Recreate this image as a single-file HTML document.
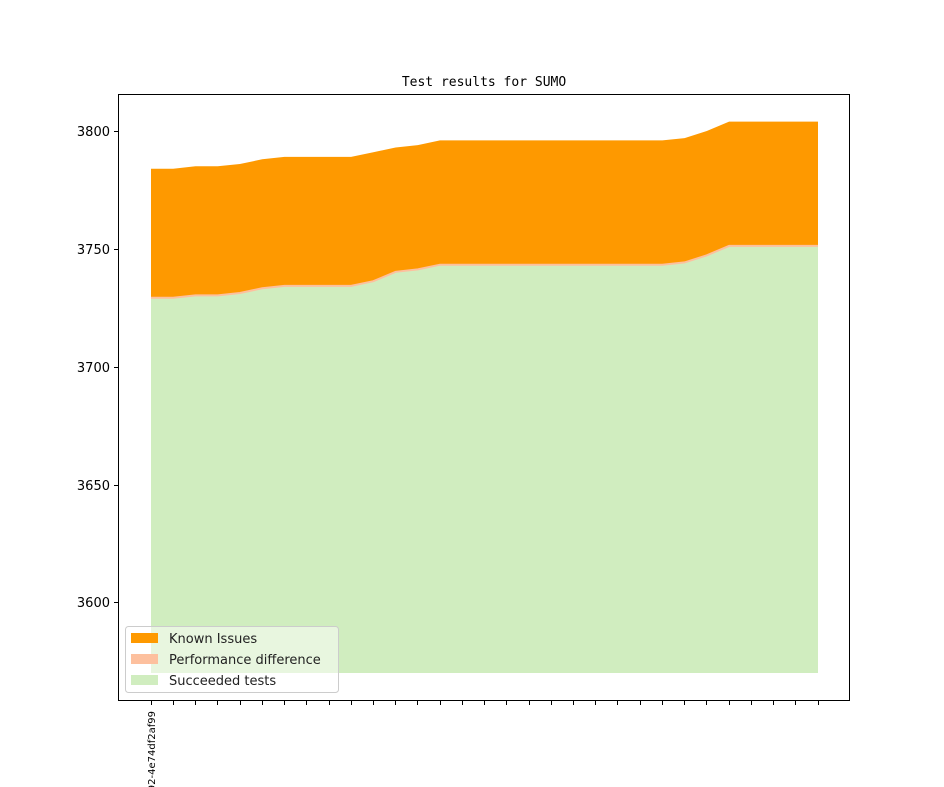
<!DOCTYPE html>
<html><head><style>html,body{margin:0;background:#fff;overflow:hidden;width:944px;height:787px}svg{display:block}</style></head><body>
<svg width="944" height="787" overflow="hidden" xmlns="http://www.w3.org/2000/svg" font-family="DejaVu Sans, Liberation Sans, sans-serif">
<rect width="944" height="787" fill="#fff"/>
<text x="484" y="86" text-anchor="middle" font-family="DejaVu Sans Mono, Liberation Mono, monospace" font-size="13">Test results for SUMO</text>
<polygon fill="#fe9900" points="151,168.7 173.2,168.7 195.5,166.3 217.7,166.3 239.9,164 262.2,159.3 284.4,156.9 306.6,156.9 328.9,156.9 351.1,156.9 373.3,152.2 395.6,147.5 417.8,145.1 440,140.4 662.4,140.4 684.6,138.1 706.8,131 729.1,121.6 818,121.6 818,246.4 729.1,246.4 706.8,255.8 684.6,262.9 662.4,265.2 440,265.2 417.8,269.9 395.6,272.3 373.3,281.7 351.1,286.4 328.9,286.4 306.6,286.4 284.4,286.4 262.2,288.8 239.9,293.5 217.7,295.9 195.5,295.9 173.2,298.2 151,298.2"/>
<polygon fill="#d0edbf" points="151,298.2 173.2,298.2 195.5,295.9 217.7,295.9 239.9,293.5 262.2,288.8 284.4,286.4 306.6,286.4 328.9,286.4 351.1,286.4 373.3,281.7 395.6,272.3 417.8,269.9 440,265.2 662.4,265.2 684.6,262.9 706.8,255.8 729.1,246.4 818,246.4 818,673 151,673"/>
<polyline fill="none" stroke="#fdc09e" stroke-width="2" points="151,297.7 173.2,297.7 195.5,295.4 217.7,295.4 239.9,293 262.2,288.3 284.4,285.9 306.6,285.9 328.9,285.9 351.1,285.9 373.3,281.2 395.6,271.8 417.8,269.4 440,264.7 662.4,264.7 684.6,262.4 706.8,255.3 729.1,245.9 818,245.9"/>
<rect x="118.5" y="94.5" width="731" height="606" fill="none" stroke="#000" stroke-width="1"/>
<g stroke="#000" stroke-width="1">
<line x1="114" x2="118" y1="131.5" y2="131.5"/><line x1="114" x2="118" y1="249.5" y2="249.5"/><line x1="114" x2="118" y1="367.5" y2="367.5"/><line x1="114" x2="118" y1="485.5" y2="485.5"/><line x1="114" x2="118" y1="602.5" y2="602.5"/>
</g>
<g font-size="13" text-anchor="end">
<text x="110" y="136">3800</text><text x="110" y="254">3750</text><text x="110" y="372">3700</text><text x="110" y="490">3650</text><text x="110" y="607">3600</text>
</g>
<g stroke="#000" stroke-width="1">
<line x1="151.5" x2="151.5" y1="701" y2="705"/><line x1="173.5" x2="173.5" y1="701" y2="705"/><line x1="195.5" x2="195.5" y1="701" y2="705"/><line x1="217.5" x2="217.5" y1="701" y2="705"/><line x1="240.5" x2="240.5" y1="701" y2="705"/><line x1="262.5" x2="262.5" y1="701" y2="705"/><line x1="284.5" x2="284.5" y1="701" y2="705"/><line x1="306.5" x2="306.5" y1="701" y2="705"/><line x1="329.5" x2="329.5" y1="701" y2="705"/><line x1="351.5" x2="351.5" y1="701" y2="705"/><line x1="373.5" x2="373.5" y1="701" y2="705"/><line x1="395.5" x2="395.5" y1="701" y2="705"/><line x1="417.5" x2="417.5" y1="701" y2="705"/><line x1="440.5" x2="440.5" y1="701" y2="705"/><line x1="462.5" x2="462.5" y1="701" y2="705"/><line x1="484.5" x2="484.5" y1="701" y2="705"/><line x1="506.5" x2="506.5" y1="701" y2="705"/><line x1="529.5" x2="529.5" y1="701" y2="705"/><line x1="551.5" x2="551.5" y1="701" y2="705"/><line x1="573.5" x2="573.5" y1="701" y2="705"/><line x1="595.5" x2="595.5" y1="701" y2="705"/><line x1="617.5" x2="617.5" y1="701" y2="705"/><line x1="640.5" x2="640.5" y1="701" y2="705"/><line x1="662.5" x2="662.5" y1="701" y2="705"/><line x1="684.5" x2="684.5" y1="701" y2="705"/><line x1="706.5" x2="706.5" y1="701" y2="705"/><line x1="729.5" x2="729.5" y1="701" y2="705"/><line x1="751.5" x2="751.5" y1="701" y2="705"/><line x1="773.5" x2="773.5" y1="701" y2="705"/><line x1="795.5" x2="795.5" y1="701" y2="705"/><line x1="818.5" x2="818.5" y1="701" y2="705"/>
</g>
<text transform="translate(155,711) rotate(-90)" text-anchor="end" font-size="10">92-4e74df2af99</text>
<rect x="125.5" y="626.5" width="213" height="66" rx="3" fill="#fff" fill-opacity="0.5" stroke="#ccc"/>
<rect x="131" y="633" width="27" height="10" fill="#fe9900"/>
<rect x="131" y="654" width="27" height="10" fill="#fdc09e"/>
<rect x="131" y="675" width="27" height="10" fill="#d0edbf"/>
<g font-size="13" fill="#222"><text x="169" y="643">Known Issues</text><text x="169" y="664">Performance difference</text><text x="169" y="685">Succeeded tests</text></g>
</svg>
</body></html>
